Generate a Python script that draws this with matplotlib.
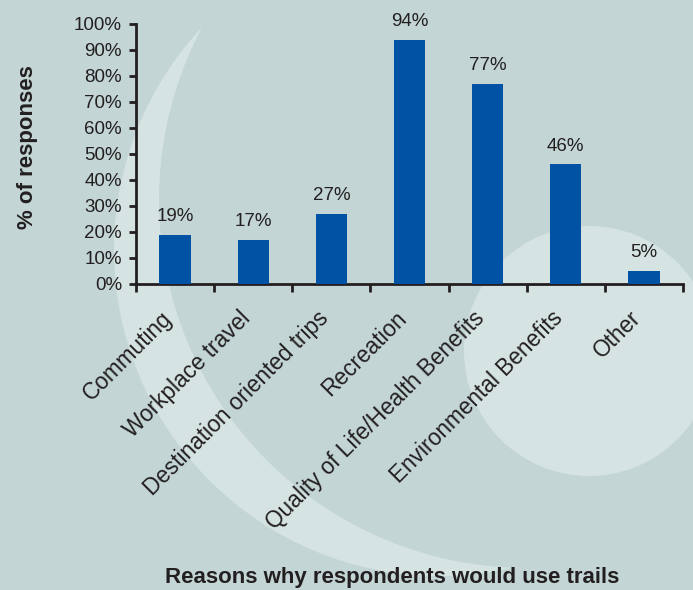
import matplotlib
matplotlib.use("Agg")
import matplotlib.pyplot as plt
from matplotlib.patches import Circle

plt.rcParams['font.family'] = ['Liberation Sans', 'DejaVu Sans']

# data
categories = ["Commuting", "Workplace travel", "Destination oriented trips",
              "Recreation", "Quality of Life/Health Benefits",
              "Environmental Benefits", "Other"]
values = [19, 17, 27, 94, 77, 46, 5]
ytick_labels = ["0%", "10%", "20%", "30%", "40%", "50%",
                "60%", "70%", "80%", "90%", "100%"]

bg_color = "#c3d5d5"
light_color = "#d6e3e3"
bar_color = "#0053a4"
ink = "#231f20"

fig = plt.figure(figsize=(6.93, 5.90), dpi=100)
fig.patch.set_facecolor(bg_color)

# background decoration (pixel coordinates)
deco = fig.add_axes([0, 0, 1, 1])
deco.set_xlim(0, 693)
deco.set_ylim(590, 0)
deco.axis("off")
deco.add_patch(Circle((440, 250), 326, color=light_color, lw=0))
deco.add_patch(Circle((527, 200), 368, color=bg_color, lw=0))
deco.add_patch(Circle((589, 351), 125, color=light_color, lw=0))

# main chart
ax = fig.add_axes([136/693, 1 - 284/590, 547/693, 260/590])
ax.patch.set_alpha(0)

x = list(range(len(categories)))
bars = ax.bar(x, values, width=0.4, color=bar_color, zorder=3)

for xi, v in zip(x, values):
    ax.annotate(f"{v}%", (xi, v), xytext=(0, 7), textcoords="offset points",
                ha="center", va="bottom", fontsize=13.5, color=ink)

ax.set_xlim(-0.5, len(categories) - 0.5)
ax.set_ylim(0, 100)
ax.set_yticks(range(0, 101, 10))
ax.set_yticklabels(ytick_labels, fontsize=13.5, color=ink)

# ticks between categories, labels just left of bar centres
ax.set_xticks([i - 0.5 for i in range(len(categories) + 1)])
ax.set_xticklabels([])
ax.set_xticks([xi - 0.08 for xi in x], minor=True)
ax.set_xticklabels(categories, minor=True, rotation=45, ha="right",
                   va="center", rotation_mode="anchor", fontsize=16.3, color=ink)
ax.tick_params(axis="x", which="minor", length=0, pad=22)
ax.tick_params(axis="x", which="major", length=6, width=2, color=ink,
               direction="out")
ax.tick_params(axis="y", length=5, width=2, color=ink, direction="out", pad=5)

for side in ["top", "right"]:
    ax.spines[side].set_visible(False)
for side in ["left", "bottom"]:
    ax.spines[side].set_linewidth(2)
    ax.spines[side].set_color(ink)

fig.text(28/693, 1 - 147/590, "% of responses", rotation=90, ha="center",
         va="center", fontsize=16, fontweight="bold", color=ink)
fig.text(392/693, 1 - 578/590, "Reasons why respondents would use trails",
         ha="center", va="center", fontsize=16, fontweight="bold", color=ink)

fig.savefig("out.png", dpi=100, facecolor=bg_color)
